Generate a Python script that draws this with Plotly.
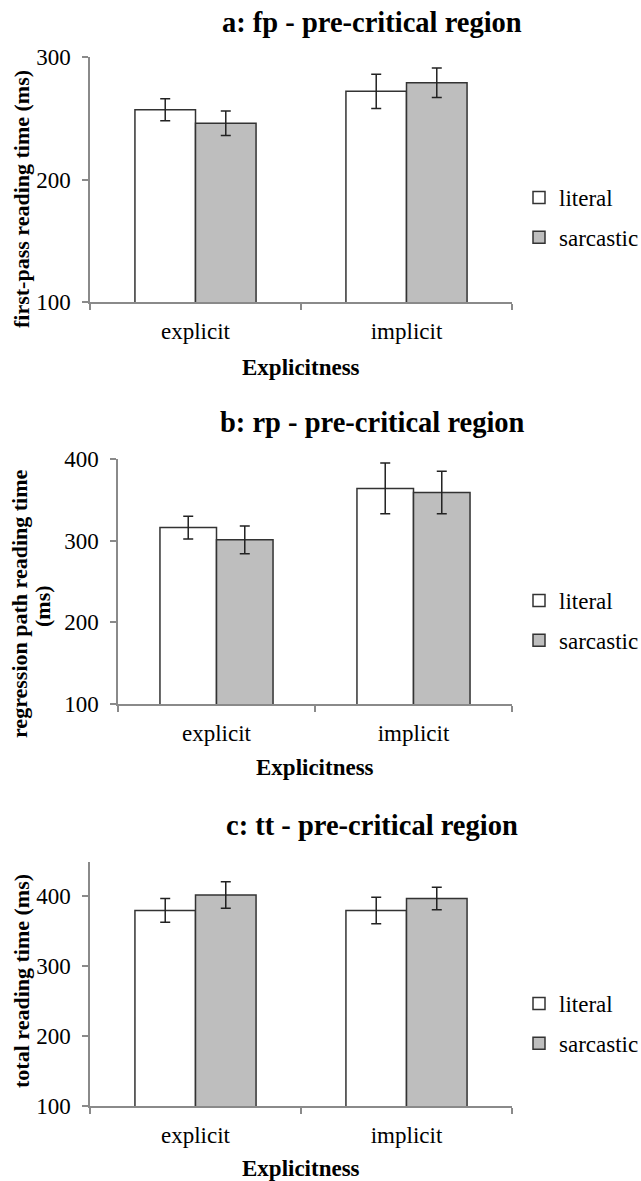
import plotly.graph_objects as go

# ---------------- data ----------------
categories = ["explicit", "implicit"]
conditions = ["literal", "sarcastic"]

panel_titles = ["a: fp - pre-critical region",
                "b: rp - pre-critical region",
                "c: tt - pre-critical region"]
y_titles = ["first-pass reading time (ms)",
            "regression path reading time<br>(ms)",
            "total reading time (ms)"]
x_title = "Explicitness"

fp_literal = [257, 272]
fp_literal_err = [9, 14]
fp_sarcastic = [246, 279]
fp_sarcastic_err = [10, 12]

rp_literal = [316, 364]
rp_literal_err = [14, 31]
rp_sarcastic = [301, 359]
rp_sarcastic_err = [17, 26]

tt_literal = [380, 380]
tt_literal_err = [17, 19]
tt_sarcastic = [402, 397]
tt_sarcastic_err = [19, 16]

y_ranges = [[100, 300], [100, 400], [100, 450]]
y_ticks = [[100, 200, 300], [100, 200, 300, 400], [100, 200, 300, 400]]

# ---------------- style ----------------
W, H = 641, 1181
FONT = "Liberation Serif"
AXIS_GREY = "#8a8a8a"
EDGE = "#333333"
FILLS = {"literal": "#ffffff", "sarcastic": "#bebebe"}


def px_x(x):
    return x / W


def px_y(y):
    return 1 - y / H


# panel geometry in pixels: (left, right, top, bottom)
panels = [
    (90, 512, 57, 302),
    (118, 512, 459, 704),
    (90, 512, 861.5, 1106),
]
legend_mid = [217.5, 620.5, 1023.5]
title_y = [22, 423, 825]
xtitle_y = [367, 767, 1168]

series = [
    [(fp_literal, fp_literal_err), (fp_sarcastic, fp_sarcastic_err)],
    [(rp_literal, rp_literal_err), (rp_sarcastic, rp_sarcastic_err)],
    [(tt_literal, tt_literal_err), (tt_sarcastic, tt_sarcastic_err)],
]

fig = go.Figure()
annotations = []
layout_axes = {}

for i in range(3):
    sfx = "" if i == 0 else str(i + 1)
    leg = "legend" if i == 0 else f"legend{i + 1}"
    for j, cond in enumerate(conditions):
        vals, errs = series[i][j]
        fig.add_trace(go.Bar(
            x=categories, y=vals, name=cond,
            xaxis="x" + sfx, yaxis="y" + sfx,
            legend=leg, legendgroup=f"{cond}{i}",
            marker=dict(color=FILLS[cond], line=dict(color=EDGE, width=1.5)),
            error_y=dict(type="data", array=errs, color="#222222",
                         thickness=1.5, width=5),
        ))
    l, r, t, b = panels[i]
    layout_axes["xaxis" + sfx] = dict(
        domain=[px_x(l), px_x(r)], anchor="y" + sfx,
        showline=True, linecolor=AXIS_GREY, linewidth=1.5,
        ticks="outside", tickson="boundaries", ticklen=6,
        tickcolor=AXIS_GREY, tickwidth=1.5,
        tickfont=dict(family=FONT, size=23, color="black"),
        ticklabelstandoff=8,
        showgrid=False, zeroline=False,
    )
    layout_axes["yaxis" + sfx] = dict(
        domain=[px_y(b), px_y(t)], anchor="x" + sfx,
        range=y_ranges[i], tickvals=y_ticks[i],
        showline=True, linecolor=AXIS_GREY, linewidth=1.5,
        ticks="outside", ticklen=6, tickcolor=AXIS_GREY, tickwidth=1.5,
        tickfont=dict(family=FONT, size=23, color="black"),
        ticklabelstandoff=7,
        showgrid=False, zeroline=False,
    )
    layout_axes[leg] = dict(
        x=px_x(519), xanchor="left",
        y=px_y(legend_mid[i]), yanchor="middle",
        bgcolor="rgba(0,0,0,0)", borderwidth=0,
        font=dict(family=FONT, size=23, color="black"),
        traceorder="grouped", tracegroupgap=7,
    )
    # panel title
    annotations.append(dict(
        text="<b>" + panel_titles[i] + "</b>", xref="paper", yref="paper",
        x=px_x(372), y=px_y(title_y[i]), xanchor="center", yanchor="middle",
        showarrow=False, font=dict(family=FONT, size=28.5, color="black"),
    ))
    # x title
    annotations.append(dict(
        text="<b>" + x_title + "</b>", xref="paper", yref="paper",
        x=px_x((l + r) / 2), y=px_y(xtitle_y[i]),
        xanchor="center", yanchor="middle",
        showarrow=False, font=dict(family=FONT, size=23, color="black"),
    ))

# y titles
annotations.append(dict(
    text="<b>" + y_titles[0] + "</b>", xref="paper", yref="paper",
    x=px_x(21), y=px_y(199), xanchor="center", yanchor="middle",
    textangle=-90, showarrow=False,
    font=dict(family=FONT, size=22, color="black"),
))
yt_lines = y_titles[1].split("<br>")
annotations.append(dict(
    text="<b>" + yt_lines[0] + "</b>", xref="paper", yref="paper",
    x=px_x(19), y=px_y(604), xanchor="center", yanchor="middle",
    textangle=-90, showarrow=False,
    font=dict(family=FONT, size=22, color="black"),
))
annotations.append(dict(
    text="<b>" + yt_lines[1] + "</b>", xref="paper", yref="paper",
    x=px_x(42), y=px_y(606), xanchor="center", yanchor="middle",
    textangle=-90, showarrow=False,
    font=dict(family=FONT, size=22, color="black"),
))
annotations.append(dict(
    text="<b>" + y_titles[2] + "</b>", xref="paper", yref="paper",
    x=px_x(21), y=px_y(981), xanchor="center", yanchor="middle",
    textangle=-90, showarrow=False,
    font=dict(family=FONT, size=22, color="black"),
))

fig.update_layout(
    width=W, height=H,
    margin=dict(l=0, r=0, t=0, b=0, autoexpand=False),
    paper_bgcolor="white", plot_bgcolor="white",
    barmode="group", bargap=0.426, bargroupgap=0,
    font=dict(family=FONT, size=22, color="black"),
    annotations=annotations,
    showlegend=True,
    hovermode=False,
    **layout_axes,
)

fig.write_html(
    "out.html",
    config={"displayModeBar": False},
    post_script="document.body.style.margin='0';document.body.style.padding='0';",
)
